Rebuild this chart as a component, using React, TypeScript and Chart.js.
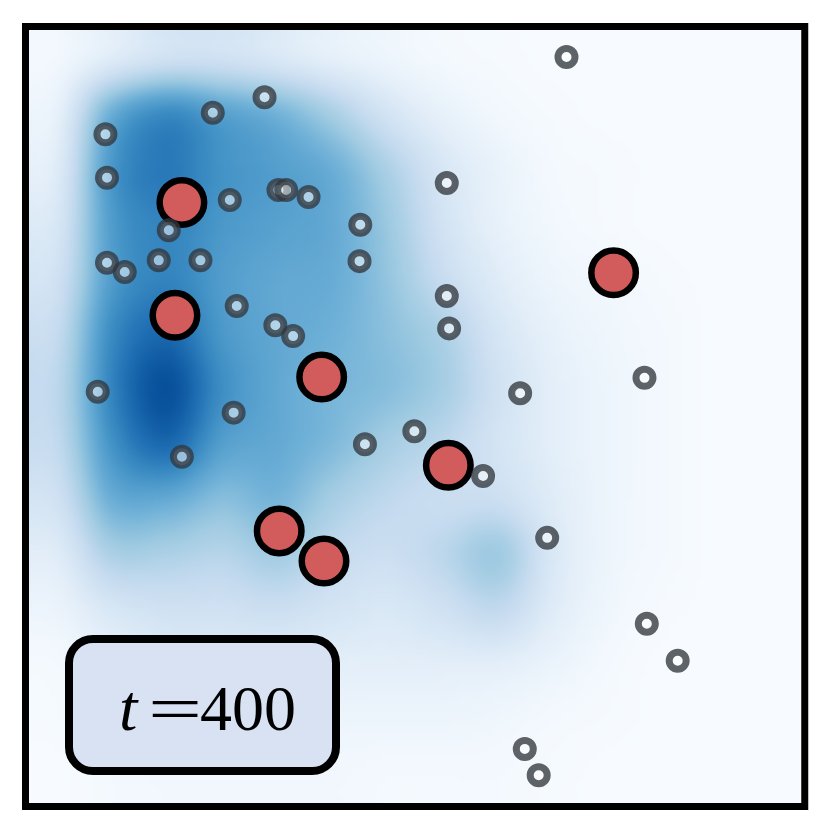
import React, { useEffect, useRef } from "react";
import { Chart, registerables } from "chart.js";

Chart.register(...registerables);

// Small hollow markers (data units 0..100)
const agentX = [69.6, 30.5, 23.8, 9.9, 10.1, 26.0, 32.3, 33.3, 36.2, 54.1, 18.1, 42.9, 10.1, 12.4, 16.8, 22.2, 42.8, 54.1, 26.9, 31.9, 34.2, 54.4, 8.9, 26.5, 63.6, 79.7, 43.5, 49.9, 19.8, 58.8, 67.1, 80.0, 84.0, 64.2, 66.0];
const agentY = [96.5, 91.3, 89.3, 86.5, 80.9, 78.0, 79.3, 79.3, 78.4, 80.2, 74.1, 74.8, 69.9, 68.7, 70.2, 70.2, 70.1, 65.6, 64.3, 61.8, 60.4, 61.4, 53.2, 50.5, 53.0, 55.0, 46.4, 48.1, 44.8, 42.3, 34.3, 23.2, 18.4, 7.0, 3.6];

// Large red markers
const targetX = [19.8, 18.9, 37.9, 75.7, 54.3, 32.4, 38.2];
const targetY = [77.7, 63.1, 55.1, 68.6, 43.7, 35.2, 31.3];

// Density field (rows top -> bottom, columns left -> right), 0..1
const densityRows = [
  [0.03, 0.12, 0.20, 0.20, 0.15, 0.09, 0.05, 0.02, 0.01, 0.00, 0.00, 0.00, 0.00, 0.00],
  [0.08, 0.50, 0.65, 0.56, 0.48, 0.34, 0.18, 0.08, 0.03, 0.01, 0.00, 0.00, 0.00, 0.00],
  [0.12, 0.60, 0.72, 0.62, 0.57, 0.50, 0.33, 0.16, 0.07, 0.02, 0.01, 0.00, 0.00, 0.00],
  [0.16, 0.58, 0.68, 0.60, 0.56, 0.52, 0.38, 0.19, 0.08, 0.03, 0.01, 0.00, 0.00, 0.00],
  [0.20, 0.58, 0.68, 0.58, 0.53, 0.51, 0.40, 0.24, 0.12, 0.05, 0.03, 0.01, 0.00, 0.00],
  [0.25, 0.65, 0.78, 0.60, 0.53, 0.49, 0.42, 0.33, 0.17, 0.08, 0.04, 0.02, 0.00, 0.00],
  [0.28, 0.68, 0.88, 0.64, 0.53, 0.47, 0.43, 0.35, 0.20, 0.10, 0.05, 0.02, 0.00, 0.00],
  [0.26, 0.62, 0.78, 0.57, 0.52, 0.45, 0.35, 0.28, 0.18, 0.10, 0.05, 0.02, 0.00, 0.00],
  [0.20, 0.50, 0.52, 0.43, 0.47, 0.35, 0.27, 0.23, 0.22, 0.12, 0.05, 0.02, 0.00, 0.00],
  [0.12, 0.33, 0.33, 0.30, 0.36, 0.26, 0.22, 0.28, 0.37, 0.15, 0.05, 0.02, 0.00, 0.00],
  [0.06, 0.16, 0.20, 0.20, 0.22, 0.18, 0.15, 0.20, 0.26, 0.12, 0.04, 0.01, 0.00, 0.00],
  [0.02, 0.08, 0.12, 0.12, 0.12, 0.10, 0.10, 0.10, 0.10, 0.06, 0.02, 0.00, 0.00, 0.00],
  [0.01, 0.04, 0.06, 0.06, 0.06, 0.05, 0.05, 0.05, 0.04, 0.02, 0.01, 0.00, 0.00, 0.00],
  [0.00, 0.02, 0.03, 0.03, 0.03, 0.03, 0.02, 0.02, 0.02, 0.01, 0.00, 0.00, 0.00, 0.00],
];

const bluesStops = ["#f7fbff", "#deebf7", "#c6dbef", "#9ecae1", "#6baed6", "#4292c6", "#2171b5", "#08519c", "#08306b"];

const labelItalic = "t";
const labelRest = "=";
const labelNumber = "400";

function hexToRgb(h: string): number[] {
  const n = parseInt(h.slice(1), 16);
  return [(n >> 16) & 255, (n >> 8) & 255, n & 255];
}
const bluesRgb = bluesStops.map(hexToRgb);

function cmap(v: number): number[] {
  const t = Math.max(0, Math.min(1, v)) * (bluesRgb.length - 1);
  const i = Math.min(bluesRgb.length - 2, Math.floor(t));
  const f = t - i;
  const a = bluesRgb[i], b = bluesRgb[i + 1];
  return [a[0] + (b[0] - a[0]) * f, a[1] + (b[1] - a[1]) * f, a[2] + (b[2] - a[2]) * f];
}

function cr(p0: number, p1: number, p2: number, p3: number, t: number) {
  return 0.5 * (2 * p1 + (-p0 + p2) * t + (2 * p0 - 5 * p1 + 4 * p2 - p3) * t * t + (-p0 + 3 * p1 - 3 * p2 + p3) * t * t * t);
}

function sample(gx: number, gy: number): number {
  const rows = densityRows.length, cols = densityRows[0].length;
  const get = (r: number, c: number) => densityRows[Math.max(0, Math.min(rows - 1, r))][Math.max(0, Math.min(cols - 1, c))];
  const x0 = Math.floor(gx), y0 = Math.floor(gy);
  const tx = gx - x0, ty = gy - y0;
  const vals: number[] = [];
  for (let k = -1; k <= 2; k++) {
    vals.push(cr(get(y0 + k, x0 - 1), get(y0 + k, x0), get(y0 + k, x0 + 1), get(y0 + k, x0 + 2), tx));
  }
  return cr(vals[0], vals[1], vals[2], vals[3], ty);
}

const heatPlugin = {
  id: "heat",
  beforeDatasetsDraw(chart: any) {
    const { ctx, scales } = chart;
    const xs = scales.x, ys = scales.y;
    const l = xs.getPixelForValue(0), r = xs.getPixelForValue(100);
    const t = ys.getPixelForValue(100), b = ys.getPixelForValue(0);
    const N = 110;
    const rows = densityRows.length, cols = densityRows[0].length;
    const off = document.createElement("canvas");
    off.width = N; off.height = N;
    const octx = off.getContext("2d")!;
    const img = octx.createImageData(N, N);
    for (let j = 0; j < N; j++) {
      const gy = ((j + 0.5) / N) * rows - 0.5;
      for (let i = 0; i < N; i++) {
        const gx = ((i + 0.5) / N) * cols - 0.5;
        const c = cmap(sample(gx, gy));
        const o = (j * N + i) * 4;
        img.data[o] = c[0]; img.data[o + 1] = c[1]; img.data[o + 2] = c[2]; img.data[o + 3] = 255;
      }
    }
    octx.putImageData(img, 0, 0);
    ctx.save();
    ctx.imageSmoothingEnabled = true;
    ctx.imageSmoothingQuality = "high";
    ctx.drawImage(off, l, t, r - l, b - t);
    ctx.restore();
  },
};

const framePlugin = {
  id: "frame",
  afterDraw(chart: any) {
    const { ctx, chartArea } = chart;
    const { left, top, right, bottom } = chartArea;
    ctx.save();
    // plot border
    ctx.lineWidth = 7;
    ctx.strokeStyle = "#000";
    ctx.strokeRect(left - 3.5, top - 3.5, right - left + 7, bottom - top + 7);
    // label box
    const bx = left + 40, by = bottom - 164, bw = 267, bh = 132, rad = 24;
    ctx.beginPath();
    ctx.moveTo(bx + rad, by);
    ctx.arcTo(bx + bw, by, bx + bw, by + bh, rad);
    ctx.arcTo(bx + bw, by + bh, bx, by + bh, rad);
    ctx.arcTo(bx, by + bh, bx, by, rad);
    ctx.arcTo(bx, by, bx + bw, by, rad);
    ctx.closePath();
    ctx.fillStyle = "#d8e2f3";
    ctx.fill();
    ctx.lineWidth = 8;
    ctx.strokeStyle = "#000";
    ctx.stroke();
    // text
    const base = by + 91;
    ctx.fillStyle = "#000";
    ctx.textBaseline = "alphabetic";
    ctx.textAlign = "left";
    ctx.font = "italic 66px 'Liberation Serif'";
    ctx.fillText(labelItalic, bx + 50, base);
    ctx.save();
    ctx.translate(bx + 79, base);
    ctx.scale(1.5, 1);
    ctx.font = "64px 'Liberation Serif'";
    ctx.fillText(labelRest, 0, 0);
    ctx.restore();
    ctx.font = "64px 'Liberation Serif'";
    ctx.fillText(labelNumber, bx + 131, base);
    ctx.restore();
  },
};

export default function App() {
  const ref = useRef<HTMLCanvasElement | null>(null);
  useEffect(() => {
    if (!ref.current) return;
    const chart = new Chart(ref.current, {
      type: "scatter",
      data: {
        datasets: [
          {
            label: "agents",
            data: agentX.map((x, i) => ({ x, y: agentY[i] })),
            pointRadius: 8.5,
            pointBorderWidth: 7,
            pointBackgroundColor: "rgba(255,255,255,0.5)",
            pointBorderColor: "rgba(50,55,62,0.78)",
            pointHoverRadius: 8.5,
          },
          {
            label: "targets",
            data: targetX.map((x, i) => ({ x, y: targetY[i] })),
            pointRadius: 22.25,
            pointBorderWidth: 6.5,
            pointBackgroundColor: "#d25c5c",
            pointBorderColor: "#000",
            pointHoverRadius: 22.25,
          },
        ],
      },
      options: {
        animation: false,
        responsive: true,
        maintainAspectRatio: false,
        layout: { padding: { left: 29, top: 30, right: 27, bottom: 36 } },
        scales: {
          x: { type: "linear", min: 0, max: 100, display: false },
          y: { type: "linear", min: 0, max: 100, display: false },
        },
        plugins: { legend: { display: false }, tooltip: { enabled: false } },
        events: [],
      },
      plugins: [heatPlugin, framePlugin],
    });
    return () => chart.destroy();
  }, []);
  return (
    <div style={{ position: "absolute", left: 0, top: 0, width: 830, height: 839, background: "#fff" }}>
      <canvas ref={ref} />
    </div>
  );
}
